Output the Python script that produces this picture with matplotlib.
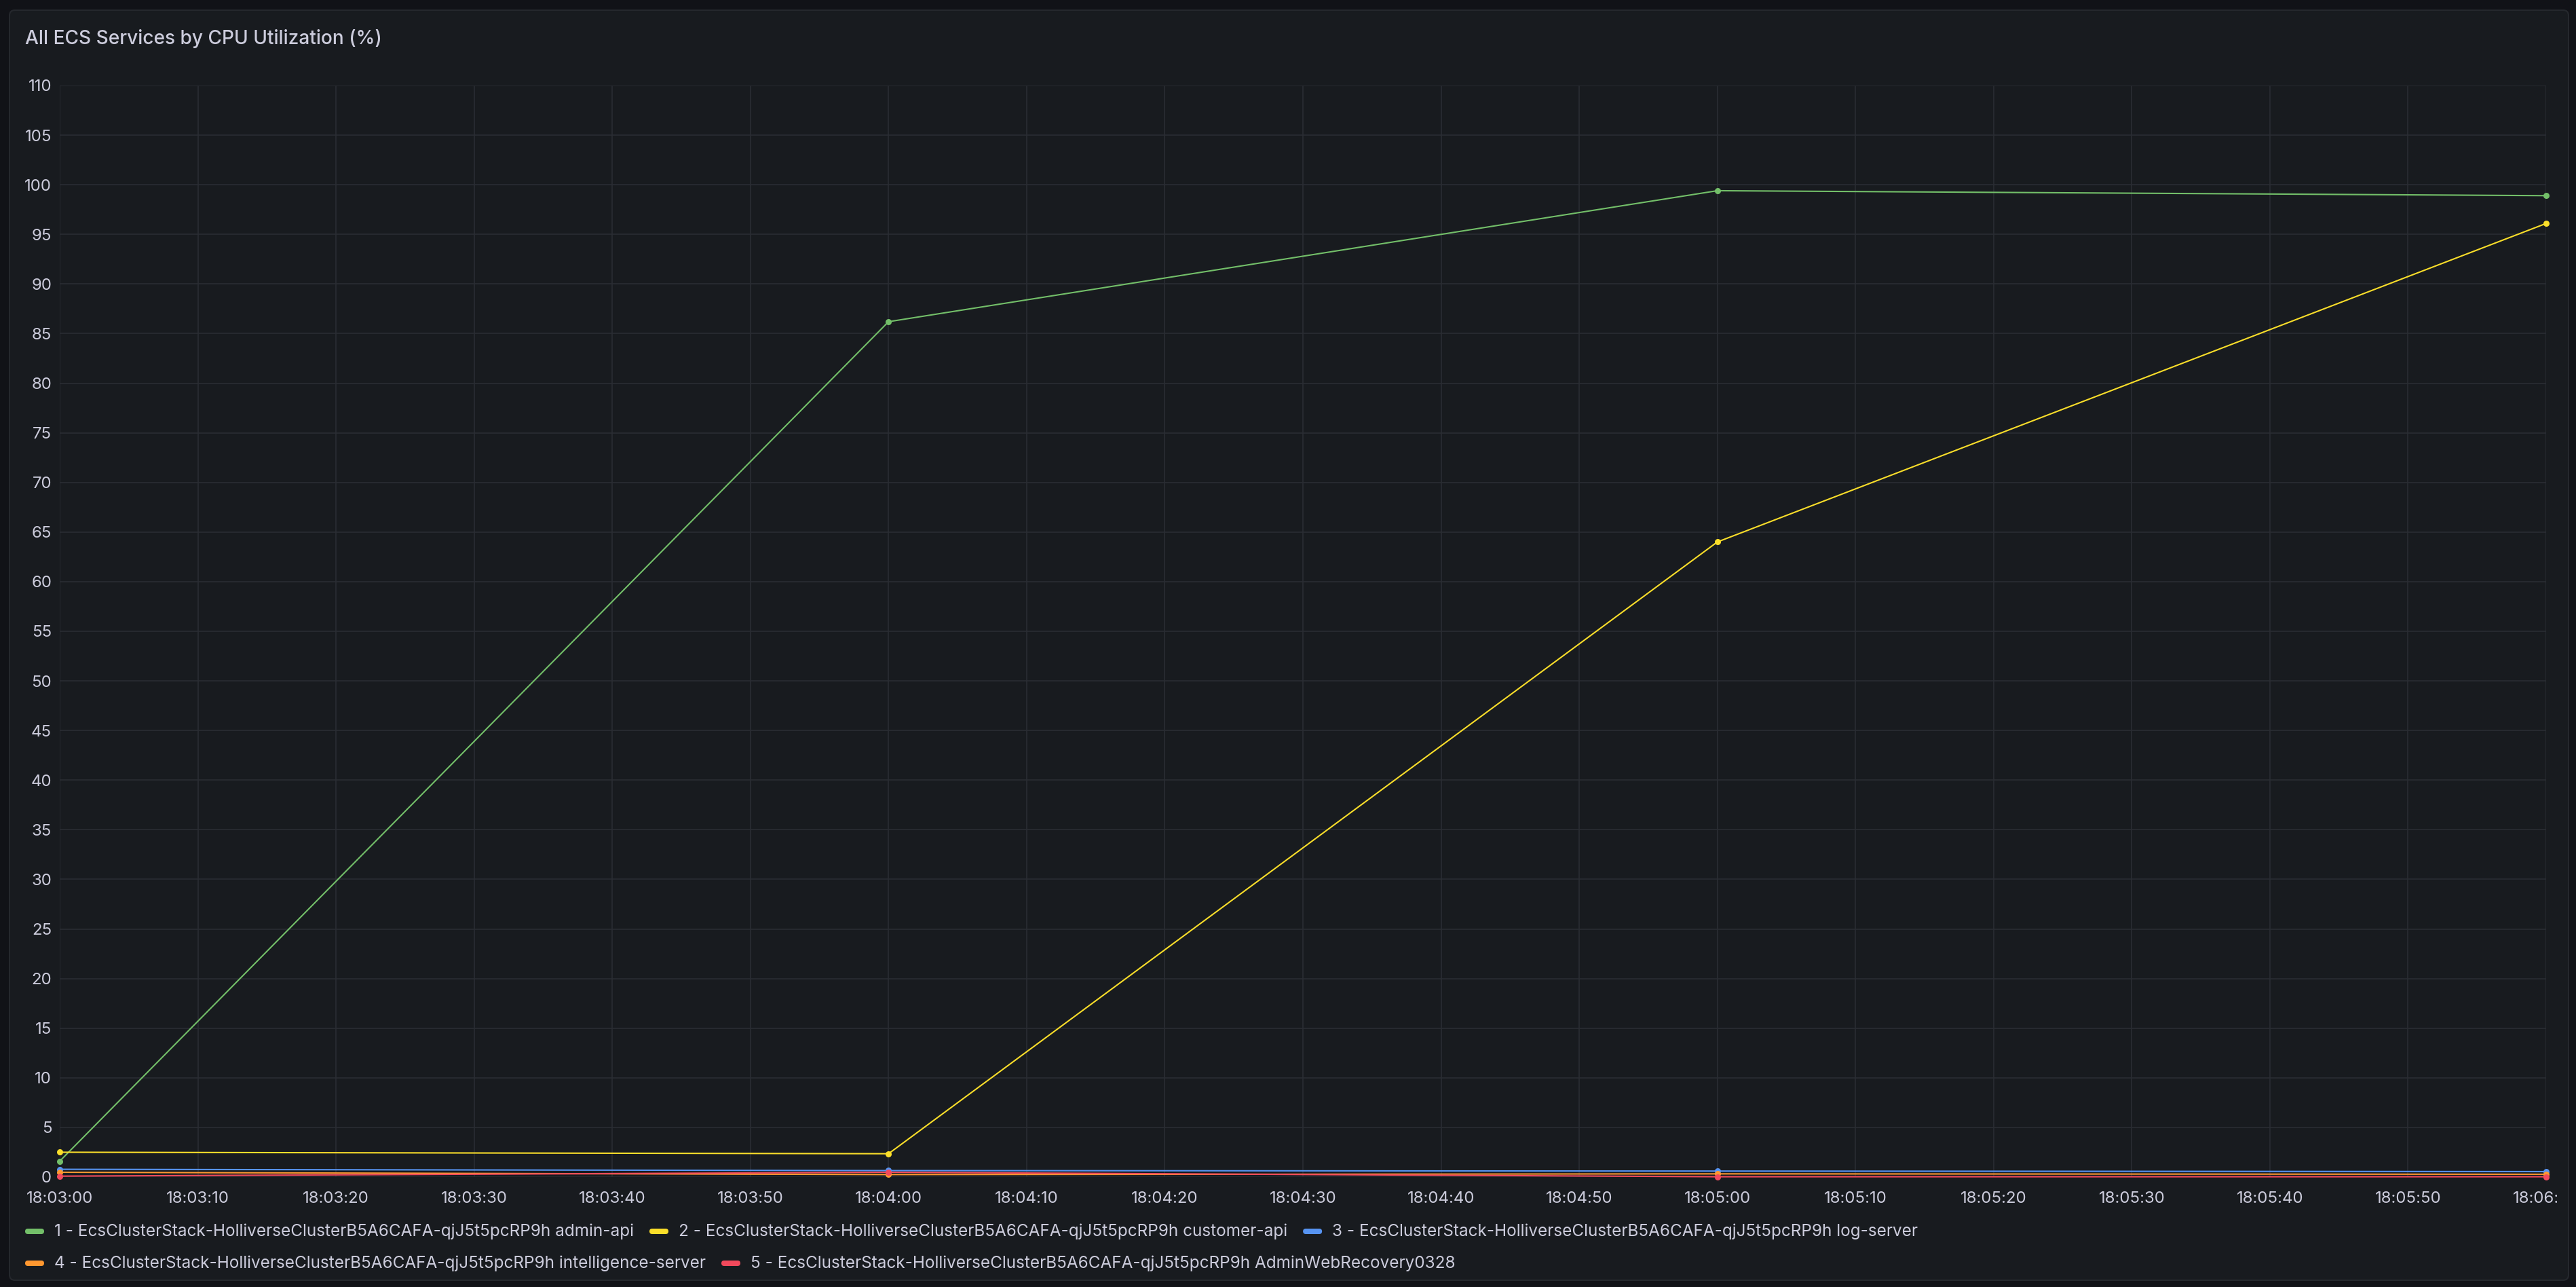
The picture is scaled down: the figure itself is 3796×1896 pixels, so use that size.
import pandas as pd
import matplotlib
matplotlib.use('Agg')
import matplotlib.pyplot as plt
import matplotlib.dates as mdates
from matplotlib.patches import FancyBboxPatch
from matplotlib.transforms import IdentityTransform, Bbox, TransformedBbox

plt.rcParams['font.family'] = ['Inter', 'DejaVu Sans']

tempos = pd.to_datetime(['2024-01-01 18:03:00', '2024-01-01 18:04:00',
                         '2024-01-01 18:05:00', '2024-01-01 18:06:00'])
prefixo = 'EcsClusterStack-HolliverseClusterB5A6CAFA-qjJ5t5pcRP9h'
servicos = ['admin-api', 'customer-api', 'log-server',
            'intelligence-server', 'AdminWebRecovery0328']
admin_api = [1.6, 86.2, 99.4, 98.9]
customer_api = [2.5, 2.35, 64.0, 96.1]
log_server = [0.78, 0.65, 0.6, 0.55]
intelligence_server = [0.48, 0.25, 0.32, 0.28]
admin_web_recovery = [0.09, 0.48, 0.03, 0.03]
cores = ['#73BF69', '#FADE2A', '#5794F2', '#FF9830', '#F2495C']
titulo = 'All ECS Services by CPU Utilization (%)'

W, H = 3796, 1896
fundo = '#111217'
painel = '#181b1f'
texto = '#ccccdc'
grade = '#2a2d33'

fig = plt.figure(figsize=(W / 100, H / 100), dpi=100, facecolor=fundo)

caixa = FancyBboxPatch((14, 10), 3771, 1871, boxstyle='round,pad=0,rounding_size=8',
                       transform=IdentityTransform(), facecolor=painel,
                       edgecolor='#25282d', linewidth=1.5, zorder=-5)
fig.patches.append(caixa)

esq, dir_, topo, base = 88, 3752, 126, 1734
ax = fig.add_axes([esq / W, 1 - base / H, (dir_ - esq) / W, (base - topo) / H])
ax.set_facecolor(painel)
for s in ax.spines.values():
    s.set_visible(False)

series = [admin_api, customer_api, log_server, intelligence_server, admin_web_recovery]
for i, (vals, cor) in enumerate(zip(series, cores)):
    ax.plot(tempos, vals, color=cor, linewidth=1.5, marker='o', markersize=6.5,
            markeredgewidth=0, clip_on=False, zorder=3 + i)

ax.set_xlim(tempos[0], tempos[-1])
ax.set_ylim(0, 110)
ax.set_yticks(range(0, 111, 5))
ax.xaxis.set_major_locator(mdates.SecondLocator(bysecond=range(0, 60, 10)))
ax.xaxis.set_major_formatter(mdates.DateFormatter('%H:%M:%S'))
ax.grid(True, color=grade, linewidth=1.2, zorder=0)
ax.set_axisbelow(True)
ax.tick_params(axis='both', length=0, labelsize=17.3, colors=texto)
ax.tick_params(axis='y', pad=8.5)
ax.tick_params(axis='x', pad=15)

fig.text(37 / W, 1 - 57 / H, titulo, color=texto, fontsize=20.2,
         fontweight='medium', va='center', ha='left')

# legenda em duas linhas, como no Grafana
fig.canvas.draw()
renderer = fig.canvas.get_renderer()
linhas = [[0, 1, 2], [3, 4]]
ys = [1814, 1861]
for linha, y in zip(linhas, ys):
    x = 37
    for i in linha:
        marca = FancyBboxPatch((x, H - y - 4), 28, 8,
                               boxstyle='round,pad=0,rounding_size=4',
                               transform=IdentityTransform(),
                               facecolor=cores[i], edgecolor='none')
        fig.patches.append(marca)
        t = fig.text((x + 43) / W, 1 - y / H, f'{i + 1} - {prefixo} {servicos[i]}',
                     color=texto, fontsize=17.5, va='center', ha='left')
        bb = t.get_window_extent(renderer)
        x = bb.x1 + 23

# ultimo rotulo do eixo x cortado pela borda do painel
rotulos = ax.get_xticklabels()
corte = TransformedBbox(Bbox.from_extents(0, 0, 3768 / W, 1), fig.transFigure)
for r in rotulos:
    r.set_clip_box(corte)
    r.set_clip_on(True)

fig.savefig('out.png', dpi=100, facecolor=fundo)
